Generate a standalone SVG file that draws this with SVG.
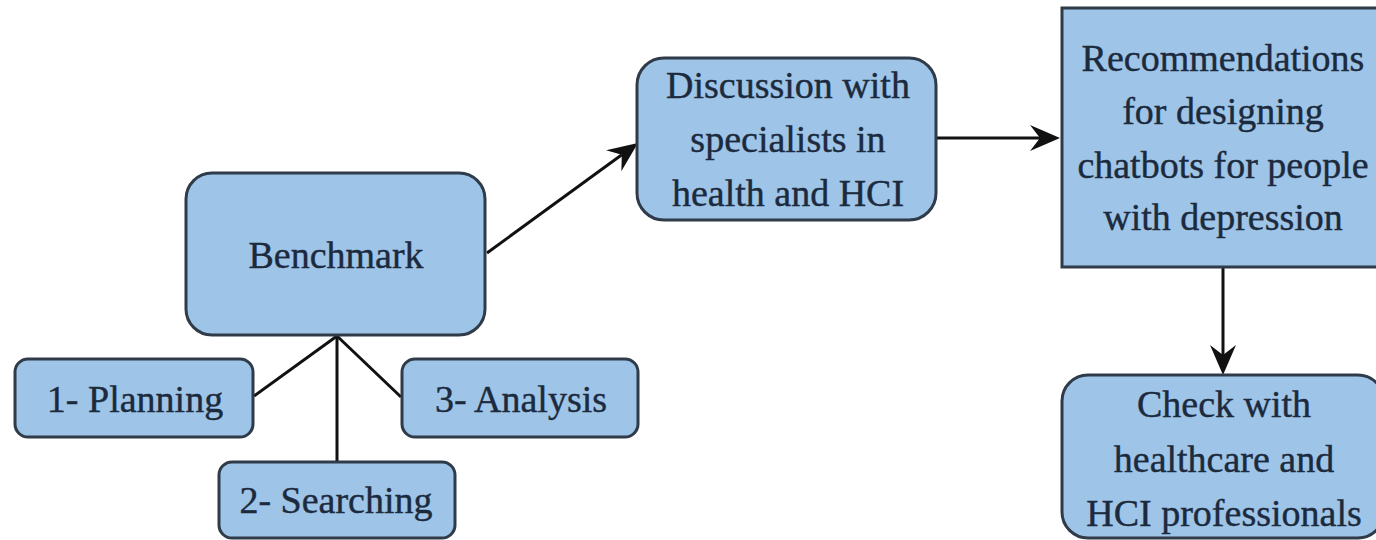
<svg xmlns="http://www.w3.org/2000/svg" width="1376" height="540" viewBox="0 0 1376 540">
<style>
.box{fill:#9ec4e7;stroke:#2f3b48;stroke-width:3}
.t{font-family:"Liberation Serif","Times New Roman",serif;font-size:38px;fill:#1c2a3d;stroke:#1c2a3d;stroke-width:0.4;text-anchor:middle}
.c{fill:none;stroke:#111;stroke-width:3}
</style>
<defs>
<marker id="ah" viewBox="0 0 30 26" refX="10" refY="13" markerWidth="30" markerHeight="26" markerUnits="userSpaceOnUse" orient="auto">
<path d="M0,0 L30,13 L0,26 L10,13 Z" fill="#111"/>
</marker>
</defs>
<rect width="1376" height="540" fill="#fff"/>
<g id="connectors">
<line class="c" x1="337" y1="336" x2="254" y2="396"/>
<line class="c" x1="337" y1="336" x2="337" y2="462"/>
<line class="c" x1="337" y1="336" x2="401" y2="397"/>
<line class="c" x1="487" y1="253" x2="621.8" y2="154.8" marker-end="url(#ah)"/>
<line class="c" x1="936" y1="138" x2="1040" y2="138" marker-end="url(#ah)"/>
<line class="c" x1="1223" y1="267" x2="1223" y2="355" marker-end="url(#ah)"/>
</g>
<g id="benchmark">
<rect class="box" x="186" y="173" width="299" height="162" rx="26"/>
<text class="t" x="336" y="268">Benchmark</text>
</g>
<g id="planning">
<rect class="box" x="15" y="359" width="238" height="78" rx="13"/>
<text class="t" x="135" y="412">1- Planning</text>
</g>
<g id="searching">
<rect class="box" x="219" y="462" width="236" height="76" rx="13"/>
<text class="t" x="336" y="513">2- Searching</text>
</g>
<g id="analysis">
<rect class="box" x="402" y="359" width="236" height="78" rx="13"/>
<text class="t" x="521" y="412">3- Analysis</text>
</g>
<g id="discussion">
<rect class="box" x="637" y="58" width="299" height="162" rx="27"/>
<text class="t"><tspan x="788" y="98">Discussion with</tspan><tspan x="788" y="152">specialists in</tspan><tspan x="788" y="206">health and HCI</tspan></text>
</g>
<g id="recommendations">
<rect class="box" x="1062" y="8" width="322" height="259"/>
<text class="t"><tspan x="1223" y="71">Recommendations</tspan><tspan x="1223" y="124">for designing</tspan><tspan x="1223" y="178">chatbots for people</tspan><tspan x="1223" y="230">with depression</tspan></text>
</g>
<g id="check">
<rect class="box" x="1062" y="375" width="322" height="163" rx="26"/>
<text class="t"><tspan x="1224" y="417">Check with</tspan><tspan x="1224" y="472">healthcare and</tspan><tspan x="1224" y="526">HCI professionals</tspan></text>
</g>
</svg>
